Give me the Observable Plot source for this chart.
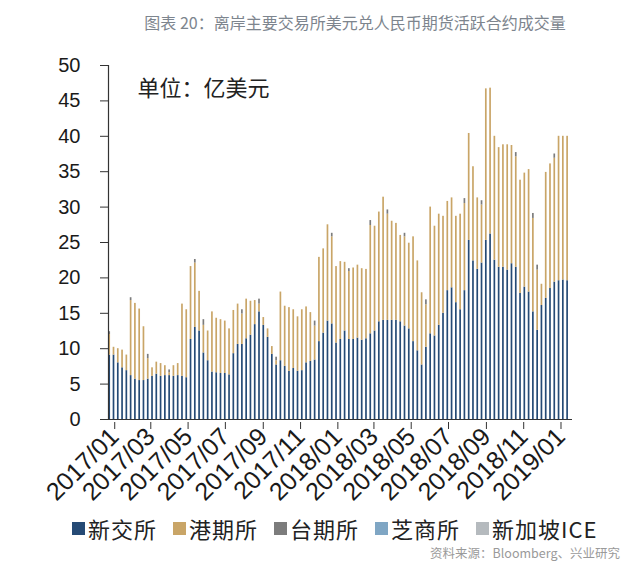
<!DOCTYPE html>
<html><head><meta charset="utf-8">
<script src="https://cdn.jsdelivr.net/npm/d3@7"></script>
<script src="https://cdn.jsdelivr.net/npm/@observablehq/plot@0.6"></script>
<style>
body{margin:0;background:#fff;width:640px;height:571px;overflow:hidden;position:relative;font-family:"Liberation Sans",Arial,"Noto Sans CJK SC",sans-serif}
#title{position:absolute;left:0;top:0;width:640px;height:44px;line-height:44px;text-align:center;font-family:"Noto Sans CJK SC",sans-serif;font-size:16px;color:#7d858e;padding-left:70px;box-sizing:border-box}
#chart{position:absolute;left:0;top:44px}
#legend{position:absolute;left:72px;top:512px;display:flex;align-items:center;font-family:"Noto Sans CJK SC",sans-serif;font-size:22px;letter-spacing:1px;color:#222;white-space:nowrap}
#legend .item{display:flex;align-items:center;margin-right:16px}
#legend .sw{width:13px;height:13px;margin-right:3px}
#source{position:absolute;right:20px;top:543px;font-family:"Noto Sans CJK SC",sans-serif;font-size:12.5px;color:#9a9a9a}
</style></head><body>
<div id="title">图表 20：离岸主要交易所美元兑人民币期货活跃合约成交量</div>
<div id="chart"></div>
<div id="legend"></div>
<div id="source">资料来源：Bloomberg、兴业研究</div>
<script>
// weekly bars starting this week
const firstWeek = "2017-01-01";
const seriesNames = ["新交所", "港期所", "台期所", "芝商所", "新加坡ICE"];
const seriesColors = ["#254a75", "#c9a567", "#7c7c7c", "#7fa6c4", "#b5babe"];
const legendLabels = ["新交所", "港期所", "台期所", "芝商所", "新加坡ICE"];
const yTicks = [0, 5, 10, 15, 20, 25, 30, 35, 40, 45, 50];
const tickLabels = ["2017/01","2017/03","2017/05","2017/07","2017/09","2017/11","2018/01","2018/03","2018/05","2018/07","2018/09","2018/11","2019/01"];
const unitLabel = "单位：亿美元";

const sgx = [9.1,9.1,8.0,7.3,6.9,6.2,5.7,5.5,5.5,5.7,6.1,6.4,6.1,6.2,6.2,6.1,6.2,6.1,5.9,11.3,
  13.0,12.5,9.4,8.3,6.7,6.6,6.5,6.5,6.3,9.3,10.6,10.6,11.4,11.9,13.4,15.2,13.3,11.6,9.2,7.7,
  8.3,7.5,6.8,7.2,6.8,6.9,8.0,8.2,8.4,11.0,12.2,13.9,13.5,10.8,11.3,12.5,11.3,11.3,11.5,11.2,
  11.4,12.1,12.5,13.8,14.0,14.0,14.0,14.0,13.8,13.2,12.8,11.0,9.7,7.7,10.2,12.1,11.8,13.3,15.0,18.2,
  18.6,16.5,15.5,18.2,25.3,22.4,21.2,22.1,25.3,26.2,22.5,21.5,21.5,21.1,22.0,21.5,17.8,18.7,18.0,15.2,
  12.6,16.1,17.1,18.5,19.4,19.6,19.7,19.6];
const hkex = [2.9,1.1,2.0,2.5,2.2,10.6,10.7,10.1,7.6,2.9,1.2,1.7,1.8,1.4,0.4,1.5,1.7,10.2,9.6,10.3,
  9.1,5.6,3.9,4.2,8.5,7.7,7.6,7.4,6.5,6.1,5.7,4.3,5.6,4.8,3.4,1.1,1.1,1.2,1.1,0.6,
  9.7,8.5,9.0,8.3,7.7,8.6,7.9,6.9,4.8,11.9,11.9,13.6,12.3,10.8,11.0,9.7,9.6,10.1,10.3,10.1,
  9.8,15.3,14.8,15.5,17.4,15.0,14.0,13.7,12.2,12.6,12.1,14.8,12.7,10.2,6.0,17.9,15.5,15.7,13.7,12.6,
  12.7,12.2,13.5,12.3,15.1,13.3,10.1,8.2,21.4,20.6,17.5,16.9,17.3,17.7,16.7,15.6,16.0,16.1,17.3,13.2,
  8.5,3.0,17.8,17.6,17.5,20.4,20.3,20.4];
const taifex = [0.4,0,0,0,0,0.4,0,0,0,0.6,0,0,0,0,0.4,0,0,0,0,0,
  0.5,0,0.8,0,0,0,0,0,0,0,0,0.6,0,0,0,0.7,0,0,0,0.5,
  0,0,0,0,0,0,0,0,0.7,0,0,0,0.5,0,0,0,0.4,0,0,0,
  0,0.7,0,0,0,0.6,0,0,0,0.5,0,0,0,0,0.7,0,0,0,0,0,
  0,0,0,0.7,0,0,0,0.6,0,0,0,0,0,0,0,0.6,0,0,0,0.7,
  0.7,0,0,0,0.6,0,0,0];
const cme = new Array(sgx.length).fill(0);
const ice = new Array(sgx.length).fill(0);

const seriesValues = [sgx, hkex, taifex, cme, ice];
const start = new Date(firstWeek + "T00:00:00Z");
const rows = [];
sgx.forEach((_, i) => {
  const date = d3.utcWeek.offset(start, i);
  seriesNames.forEach((s, k) => rows.push({date, series: s, value: seriesValues[k][i]}));
});
const parseTick = d3.utcParse("%Y/%m");
const tickDates = tickLabels.map(parseTick);
const xStart = new Date(Date.UTC(2016, 11, 30));
const xEnd = new Date(Date.UTC(2019, 0, 28));

const chart = Plot.plot({
  width: 640, height: 462,
  marginLeft: 108, marginRight: 68, marginTop: 21, marginBottom: 87,
  style: {fontFamily: '"Liberation Sans", Arial, sans-serif', fontSize: "20px", color: "#1a1a1a", background: "transparent", overflow: "visible"},
  x: {type: "utc", domain: [xStart, xEnd]},
  y: {domain: [0, 50]},
  color: {domain: seriesNames, range: seriesColors},
  marks: [
    Plot.rectY(rows, {
      x1: d => d3.utcHour.offset(d.date, -33),
      x2: d => d3.utcHour.offset(d.date, 33),
      y: "value", fill: "series", order: seriesNames
    }),
    Plot.axisY({ticks: yTicks, tickSize: 8, tickFormat: () => "", label: null, stroke: "#333"}),
    Plot.text(yTicks, {y: d => d, text: d => String(d), frameAnchor: "left", textAnchor: "end", dx: -28, fontSize: 20, fill: "#1a1a1a"}),
    Plot.axisX({ticks: tickDates, tickFormat: d3.utcFormat("%Y/%m"), tickRotate: -45, tickSize: 7, tickPadding: 3, dx: 5, dy: 3, fontSize: 25, label: null, stroke: "#333"}),
    Plot.ruleX([xStart], {stroke: "#333", strokeWidth: 1.2}),
    Plot.ruleY([0], {stroke: "#333", strokeWidth: 1.2}),
    Plot.text([unitLabel], {frameAnchor: "top-left", textAnchor: "start", lineAnchor: "middle", dx: 29, dy: 23, fontSize: 22, fill: "#222", fontFamily: '"Noto Sans CJK SC", sans-serif'})
  ]
});
document.getElementById("chart").appendChild(chart);

const legend = document.getElementById("legend");
legendLabels.forEach((l, i) => {
  const it = document.createElement("div"); it.className = "item";
  const sw = document.createElement("div"); sw.className = "sw"; sw.style.background = seriesColors[i];
  const tx = document.createElement("span"); tx.textContent = l;
  it.appendChild(sw); it.appendChild(tx); legend.appendChild(it);
});
</script>
</body></html>
